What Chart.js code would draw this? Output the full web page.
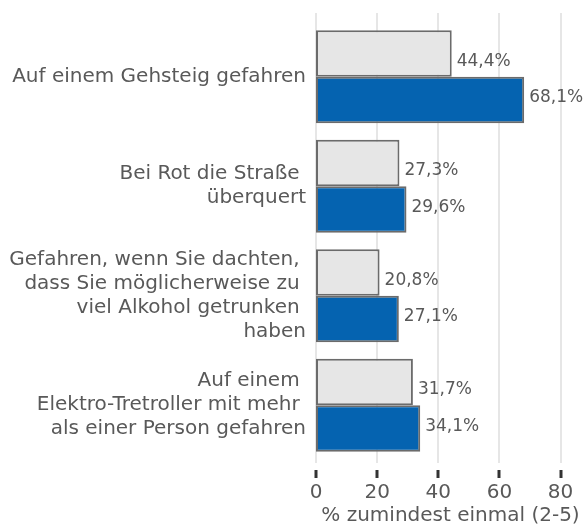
<!DOCTYPE html>
<html><head><meta charset="utf-8">
<script src="https://cdn.jsdelivr.net/npm/chart.js@4"></script>
<style>html,body{margin:0;padding:0;background:#fff}#w{width:585px;height:530px}</style>
</head><body><div id="w"><canvas id="c"></canvas></div>
<script>
const categories = [
  "Auf einem Gehsteig gefahren",
  ["Bei Rot die Straße ", "überquert"],
  ["Gefahren, wenn Sie dachten, ", "dass Sie möglicherweise zu ", "viel Alkohol getrunken ", "haben"],
  ["Auf einem ", "Elektro-Tretroller mit mehr ", "als einer Person gefahren"]
];
const seriesGray = [44.4, 27.3, 20.8, 31.7];
const seriesBlue = [68.1, 29.6, 27.1, 34.1];
const xTicks = [0, 20, 40, 60, 80];
const xTitle = "% zumindest einmal (2-5)";

const TXT = '#595959';
const FONT = "'DejaVu Sans', sans-serif";

const valueLabels = {
  id: 'valueLabels',
  afterDatasetsDraw(chart) {
    const ctx = chart.ctx;
    ctx.save();
    ctx.font = "17px " + FONT;
    ctx.fillStyle = TXT;
    ctx.textAlign = 'left';
    ctx.textBaseline = 'middle';
    chart.data.datasets.forEach((ds, di) => {
      const meta = chart.getDatasetMeta(di);
      meta.data.forEach((bar, i) => {
        const v = ds.data[i];
        const t = v.toFixed(1).replace('.', ',') + '%';
        ctx.fillText(t, bar.x + 5, bar.y + (di === 0 ? 8 : -2));
      });
    });
    ctx.restore();
  }
};
const gridAndTicks = {
  id: 'gridAndTicks',
  beforeDatasetsDraw(chart) {
    const ctx = chart.ctx, sx = chart.scales.x, a = chart.chartArea;
    ctx.save();
    ctx.strokeStyle = '#e6e6e6';
    ctx.lineWidth = 2;
    xTicks.forEach(v => {
      const px = Math.round(sx.getPixelForValue(v));
      ctx.beginPath();
      ctx.moveTo(px, a.top - 9);
      ctx.lineTo(px, a.bottom + 3);
      ctx.stroke();
    });
    ctx.restore();
  },
  afterDraw(chart) {
    const ctx = chart.ctx, sx = chart.scales.x, b = chart.chartArea.bottom;
    ctx.save();
    ctx.strokeStyle = '#333';
    ctx.lineWidth = 3;
    xTicks.forEach(v => {
      const px = Math.round(sx.getPixelForValue(v));
      ctx.beginPath();
      ctx.moveTo(px, b + 10);
      ctx.lineTo(px, b + 18);
      ctx.stroke();
    });
    ctx.restore();
  }
};

new Chart(document.getElementById('c'), {
  type: 'bar',
  data: {
    labels: categories,
    datasets: [
      { label: 'Gruppe 1', data: seriesGray, backgroundColor: '#e6e6e6', borderColor: '#6b6b6b', borderWidth: 2, borderSkipped: false },
      { label: 'Gruppe 2', data: seriesBlue, backgroundColor: '#0563b0', borderColor: '#6b6b6b', borderWidth: 2, borderSkipped: false }
    ]
  },
  options: {
    indexAxis: 'y',
    responsive: true,
    maintainAspectRatio: false,
    animation: false,
    layout: { padding: { top: 22, right: 0, left: 0, bottom: 0 } },
    datasets: { bar: { categoryPercentage: 0.849, barPercentage: 1.0 } },
    plugins: { legend: { display: false }, tooltip: { enabled: false } },
    scales: {
      x: {
        min: 0, max: 88,
        afterBuildTicks(s) { s.ticks = xTicks.map(v => ({ value: v })); },
        afterFit(s) { s.height = 70; s.paddingLeft = 0; s.paddingRight = 0; },
        grid: { display: false, drawTicks: false },
        border: { display: false },
        ticks: { color: TXT, font: { family: FONT, size: 20 }, padding: 21 },
        title: { display: true, text: xTitle, color: TXT, font: { family: FONT, size: 20 }, padding: { top: 0, bottom: 2 } }
      },
      y: {
        afterFit(s) { s.width = 316; s.paddingTop = 0; s.paddingBottom = 0; },
        grid: { display: false, drawTicks: false },
        border: { display: false },
        ticks: { color: TXT, font: { family: FONT, size: 20, lineHeight: 1.2 }, padding: 10, autoSkip: false }
      }
    }
  },
  plugins: [valueLabels, gridAndTicks]
});
</script>
</body></html>
